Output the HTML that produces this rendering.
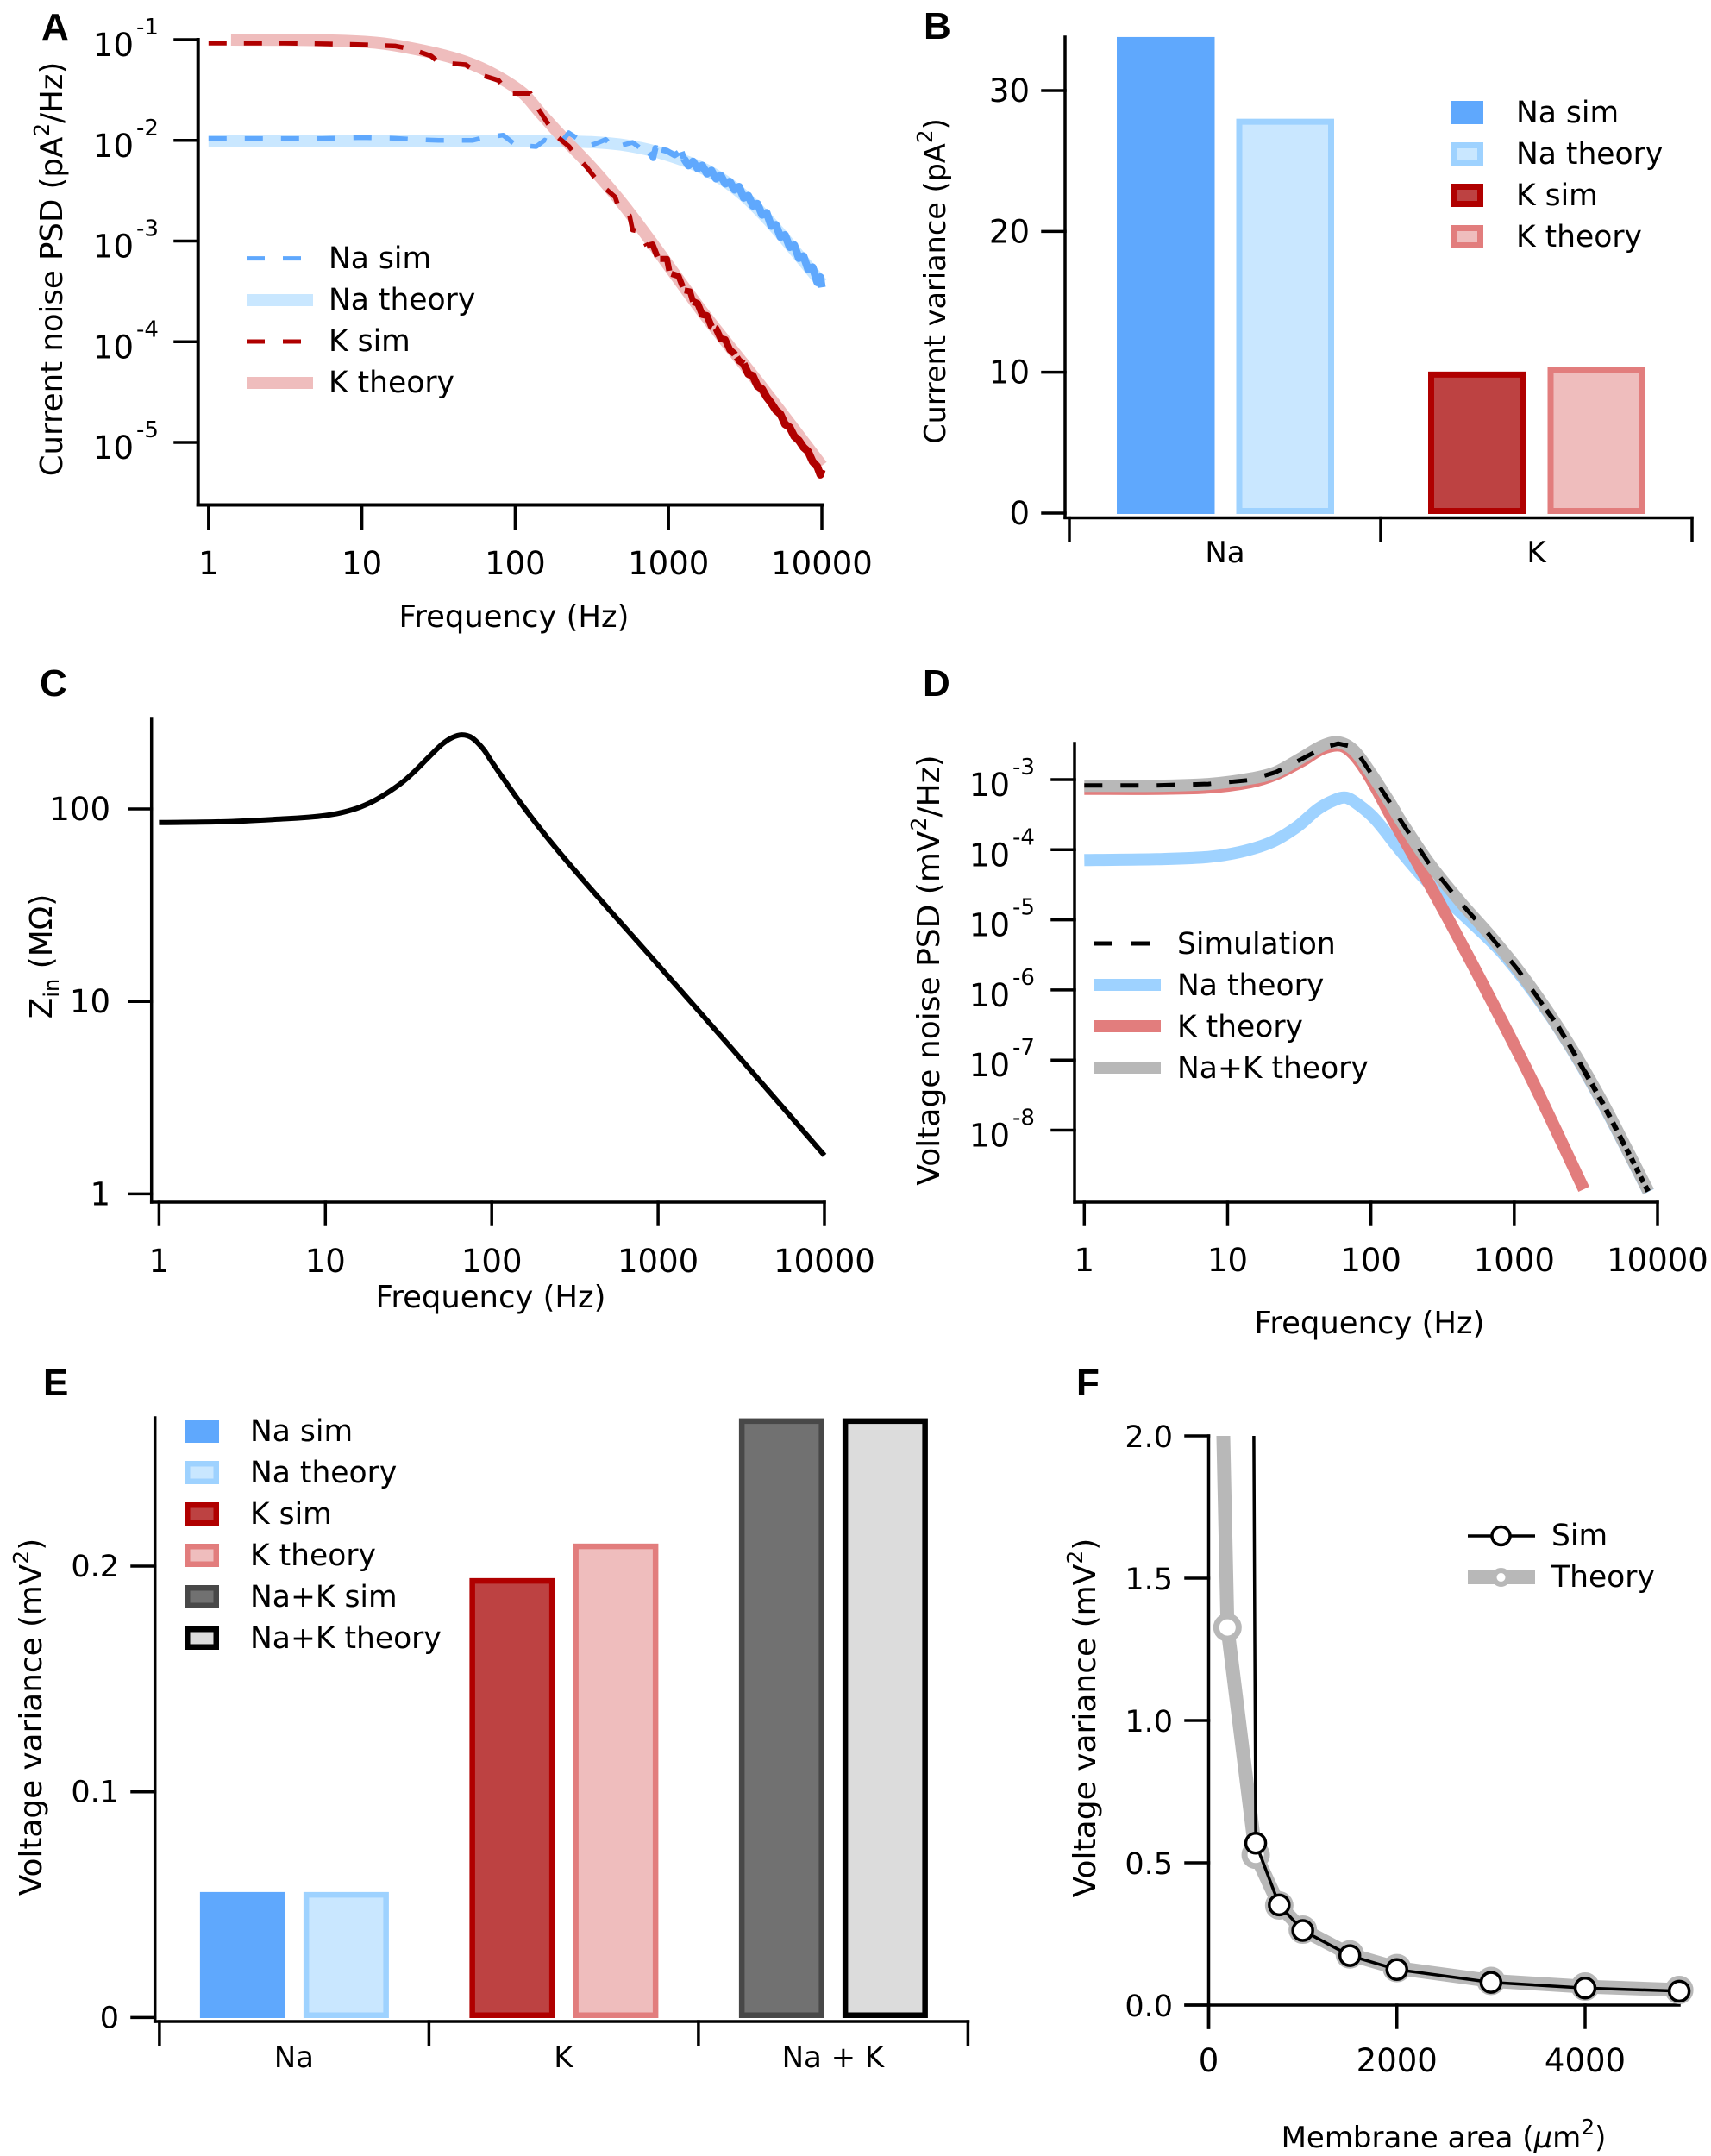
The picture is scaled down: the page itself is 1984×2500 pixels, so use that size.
<!DOCTYPE html>
<html lang="en">
<head>
<meta charset="utf-8">
<title>Channel noise figure</title>
<style>
html,body{margin:0;padding:0;background:#fff;}
svg{display:block;}
text{font-family:"DejaVu Sans","Liberation Sans",sans-serif;font-size:34.5px;fill:#000;}
.pl{font-family:"Liberation Sans",sans-serif;font-weight:bold;font-size:44px;}
</style>
</head>
<body>
<svg id="fig" xmlns="http://www.w3.org/2000/svg" width="1984" height="2500" viewBox="0 0 1984 2500">
<defs>
<clipPath id="clipF"><rect x="1380" y="1665" width="600" height="800"/></clipPath>
</defs>
<rect x="0" y="0" width="1984" height="2500" fill="#fff"/>

<g id="panelA">
<text class="pl" x="48" y="46">A</text>
<text style="font-size:35.5px" transform="translate(72,312) rotate(-90)" text-anchor="middle">Current noise PSD (pA<tspan dy="-15" font-size="25">2</tspan><tspan dy="15">/Hz)</tspan></text>
<text style="font-size:35.4px" x="596" y="727" text-anchor="middle">Frequency (Hz)</text>
<text x="381" y="311">Na sim</text>
<text x="381" y="359">Na theory</text>
<text x="381" y="407">K sim</text>
<text x="381" y="455">K theory</text>
</g>

<g id="panelB">
<text class="pl" x="1071" y="45">B</text>
<text style="font-size:33.5px" transform="translate(1096,326) rotate(-90)" text-anchor="middle">Current variance (pA<tspan dy="-15" font-size="25">2</tspan><tspan dy="15">)</tspan></text>
<text x="1758" y="142">Na sim</text>
<text x="1758" y="190">Na theory</text>
<text x="1758" y="238">K sim</text>
<text x="1758" y="286">K theory</text>
</g>

<g id="panelC">
<text class="pl" x="46" y="807">C</text>
<text style="font-size:36px" transform="translate(60,1109) rotate(-90)" text-anchor="middle">Z<tspan dy="8" font-size="24">in</tspan><tspan dy="-8"> (MΩ)</tspan></text>
<text style="font-size:35.4px" x="569" y="1516" text-anchor="middle">Frequency (Hz)</text>
</g>

<g id="panelD">
<text class="pl" x="1070" y="807">D</text>
<text style="font-size:36px" transform="translate(1089,1125) rotate(-90)" text-anchor="middle">Voltage noise PSD (mV<tspan dy="-15" font-size="25">2</tspan><tspan dy="15">/Hz)</tspan></text>
<text style="font-size:35.4px" x="1588" y="1546" text-anchor="middle">Frequency (Hz)</text>
<text x="1365" y="1106">Simulation</text>
<text x="1365" y="1154">Na theory</text>
<text x="1365" y="1202">K theory</text>
<text x="1365" y="1250">Na+K theory</text>
</g>

<g id="panelE">
<text class="pl" x="50" y="1618">E</text>
<text style="font-size:35.8px" transform="translate(48,1991) rotate(-90)" text-anchor="middle">Voltage variance (mV<tspan dy="-15" font-size="25">2</tspan><tspan dy="15">)</tspan></text>
<text x="290" y="1671">Na sim</text>
<text x="290" y="1719">Na theory</text>
<text x="290" y="1767">K sim</text>
<text x="290" y="1815">K theory</text>
<text x="290" y="1863">Na+K sim</text>
<text x="290" y="1911">Na+K theory</text>
</g>

<g id="panelF">
<text class="pl" x="1248" y="1618">F</text>
<text style="font-size:36px" transform="translate(1270,1992) rotate(-90)" text-anchor="middle">Voltage variance (mV<tspan dy="-15" font-size="25">2</tspan><tspan dy="15">)</tspan></text>
<text style="font-size:34px" x="1674" y="2490" text-anchor="middle">Membrane area (<tspan font-style="italic">µ</tspan>m<tspan dy="-15" font-size="25">2</tspan><tspan dy="15">)</tspan></text>
<text x="1799" y="1792">Sim</text>
<text x="1799" y="1840">Theory</text>
</g>
</svg>

<script>
/* ---------- Panel A data (log10 Hz, log10 pA^2/Hz) ---------- */
const aFreqTicks = ['1','10','100','1000','10000'];
const aPsdExponents = [-1,-2,-3,-4,-5];
const aNaTheoryLogF = [0,1.79,2.53,2.82,3.1,3.29,3.477,3.665,3.852,4];
const aNaTheoryLogP = [-2.005,-2.005,-2.02,-2.076,-2.2,-2.33,-2.53,-2.815,-3.147,-3.42];
const aKTheoryLogF = [0.147,0.74,1.115,1.452,1.677,1.865,2.052,2.16,2.296,2.511,2.746,3.158,3.27,3.627,4];
const aKTheoryLogP = [-1,-1.006,-1.034,-1.126,-1.22,-1.348,-1.534,-1.72,-1.948,-2.291,-2.719,-3.576,-3.8,-4.486,-5.231];
const aNaSimLogF = [0,0.74,1,1.2,1.33,1.5,1.62,1.72,1.807,1.921,2.005,2.137,2.193,2.24,2.313,2.349,2.396,2.478,2.533,2.59,2.647,2.678,2.765,2.83,2.876,2.9,2.915,2.99,3.04,3.083,3.1,3.13,3.16,3.19,3.22,3.25,3.28,3.31,3.34,3.37,3.4,3.43,3.46,3.49,3.52,3.55,3.58,3.61,3.64,3.67,3.7,3.73,3.76,3.79,3.82,3.85,3.88,3.91,3.94,3.97,3.99,4];
const aNaSimLogP = [-1.982,-1.982,-1.972,-1.978,-1.99,-2,-2,-2,-1.97,-1.948,-2.048,-2.062,-1.997,-2.033,-1.991,-1.925,-1.971,-2.056,-2.028,-1.991,-2.076,-2.056,-2.02,-2.091,-2.12,-2.176,-2.076,-2.105,-2.148,-2.105,-2.18,-2.25,-2.21,-2.28,-2.25,-2.33,-2.3,-2.38,-2.35,-2.43,-2.41,-2.49,-2.46,-2.57,-2.55,-2.65,-2.63,-2.74,-2.72,-2.85,-2.84,-2.96,-2.94,-3.06,-3.04,-3.17,-3.15,-3.28,-3.26,-3.41,-3.36,-3.46];
const aKSimLogF = [0,0.5,0.974,1.22,1.33,1.452,1.49,1.554,1.677,1.771,1.892,1.958,2.099,2.146,2.229,2.25,2.352,2.41,2.464,2.53,2.586,2.652,2.671,2.708,2.746,2.765,2.811,2.858,2.896,2.933,2.99,3.008,3.065,3.102,3.14,3.16,3.19,3.22,3.25,3.28,3.31,3.34,3.37,3.4,3.43,3.46,3.49,3.52,3.55,3.58,3.61,3.64,3.67,3.7,3.73,3.76,3.79,3.82,3.85,3.88,3.91,3.94,3.97,3.99,4];
const aKSimLogP = [-1.034,-1.034,-1.049,-1.063,-1.097,-1.163,-1.211,-1.234,-1.248,-1.348,-1.405,-1.534,-1.534,-1.677,-1.87,-1.934,-2.062,-2.177,-2.262,-2.39,-2.476,-2.562,-2.648,-2.705,-2.748,-2.89,-2.905,-3.048,-3.034,-3.177,-3.177,-3.32,-3.348,-3.49,-3.5,-3.6,-3.62,-3.73,-3.74,-3.85,-3.87,-3.97,-3.98,-4.08,-4.12,-4.19,-4.22,-4.32,-4.34,-4.44,-4.47,-4.55,-4.61,-4.68,-4.72,-4.82,-4.85,-4.94,-4.98,-5.05,-5.09,-5.19,-5.24,-5.32,-5.27];

/* ---------- Panel B data (pA^2) ---------- */
const bCategories = ['Na','K'];
const bTicks = [0,10,20,30];
const bNaSimValue = [33.8];
const bNaTheoryValue = [28.0];
const bKSimValue = [10.05];
const bKTheoryValue = [10.4];

/* ---------- Panel C data (log10 Hz, log10 MOhm) ---------- */
const cFreqTicks = ['1','10','100','1000','10000'];
const cZTicks = ['1','10','100'];
const cLogF = [0,0.41,0.76,0.9,1,1.107,1.21,1.313,1.45,1.536,1.62,1.7,1.76,1.82,1.88,1.95,2,2.17,2.344,2.55,3,3.44,4];
const cLogZ = [1.929,1.934,1.949,1.957,1.966,1.983,2.01,2.052,2.13,2.195,2.268,2.335,2.37,2.385,2.37,2.31,2.245,2.035,1.84,1.63,1.19,0.758,0.2];

/* ---------- Panel D data (log10 Hz, log10 mV^2/Hz) ---------- */
const dFreqTicks = ['1','10','100','1000','10000'];
const dPsdExponents = [-3,-4,-5,-6,-7,-8];
const dNaLogF = [0,0.504,0.866,1.083,1.301,1.482,1.627,1.736,1.826,1.917,2.03,2.2,2.377,2.695,2.936,3.225,3.426,3.626,3.827,3.937];
const dNaLogP = [-4.147,-4.135,-4.103,-4.034,-3.897,-3.677,-3.426,-3.301,-3.257,-3.364,-3.566,-4,-4.42,-5.026,-5.518,-6.29,-6.93,-7.65,-8.44,-8.88];
const dKLogF = [0,0.504,0.866,1.156,1.337,1.518,1.663,1.79,1.88,1.989,2.152,2.315,2.509,2.814,3.121,3.486];
const dKLogP = [-3.132,-3.132,-3.113,-3.038,-2.925,-2.737,-2.561,-2.517,-2.643,-2.956,-3.566,-4.153,-4.871,-6.045,-7.273,-8.842];
const dSumLogF = [0,0.504,0.866,1.156,1.337,1.518,1.663,1.772,1.88,1.989,2.134,2.202,2.403,2.623,2.824,3.025,3.225,3.426,3.626,3.827,3.937];
const dSumLogP = [-3.088,-3.088,-3.063,-2.987,-2.893,-2.687,-2.517,-2.467,-2.58,-2.875,-3.332,-3.566,-4.181,-4.742,-5.204,-5.707,-6.277,-6.92,-7.64,-8.434,-8.874];
const dSimLogF = [0,0.504,0.866,1.156,1.337,1.518,1.663,1.772,1.88,1.989,2.134,2.202,2.403,2.623,2.824,3.025,3.225,3.3,3.36,3.426,3.49,3.55,3.626,3.69,3.75,3.827,3.88,3.937];
const dSimLogP = [-3.082,-3.082,-3.063,-3.006,-2.893,-2.706,-2.549,-2.486,-2.536,-2.875,-3.332,-3.566,-4.19,-4.75,-5.21,-5.71,-6.285,-6.5,-6.7,-6.93,-7.16,-7.37,-7.65,-7.9,-8.14,-8.44,-8.66,-8.88];

/* ---------- Panel E data (mV^2) ---------- */
const eCategories = ['Na','K','Na + K'];
const eTicks = ['0','0.1','0.2'];
const eSimValues = [0.0556,0.1947,0.2655];
const eTheoryValues = [0.0556,0.21,0.2655];

/* ---------- Panel F data (um^2, mV^2) ---------- */
const fXTicks = [0,2000,4000];
const fYTicks = ['0.0','0.5','1.0','1.5','2.0'];
const fTheoryArea = [150,200,500,750,1000,1500,2000,3000,4000,5000];
const fTheoryVar = [2.08,1.327,0.528,0.35,0.265,0.178,0.13,0.085,0.065,0.053];
const fSimArea = [472,500,750,1000,1500,2000,3000,4000,5000];
const fSimVar = [2.6,0.569,0.352,0.262,0.174,0.125,0.08,0.06,0.049];

/* ---------- drawing helpers ---------- */
const NS = 'http://www.w3.org/2000/svg';
function mk(tag, parent, name, attrs) {
  const el = document.createElementNS(NS, tag);
  
  
  for (const k in attrs) el.setAttribute(k, attrs[k]);
  parent.appendChild(el);
  return el;
}
function seg(parent, name, x1, y1, x2, y2, w) {
  return mk('line', parent, name, {x1:x1, y1:y1, x2:x2, y2:y2, stroke:'#000', 'stroke-width':w || 3.5, 'stroke-linecap':'square'});
}
function label(parent, name, x, y, str, anchor, size) {
  const el = mk('text', parent, name, {x:x, y:y, 'text-anchor':anchor || 'middle'});
  el.style.fontSize = (size || 37) + 'px';
  el.textContent = str;
  return el;
}
function linear(d0, r0, d1, r1) { return v => r0 + (v - d0) * (r1 - r0) / (d1 - d0); }
function points(xs, ys, fx, fy) { return xs.map((x, i) => [fx(x), fy(ys[i])]); }
function polyPath(p) { return 'M' + p.map(q => q[0].toFixed(1) + ' ' + q[1].toFixed(1)).join('L'); }
function smoothPath(p) {
  const n = p.length;
  const m = p.map((q, i) => {
    const a = p[Math.max(i - 1, 0)], b = p[Math.min(i + 1, n - 1)];
    return (b[1] - a[1]) / (b[0] - a[0]);
  });
  let d = 'M' + p[0][0].toFixed(1) + ' ' + p[0][1].toFixed(1);
  for (let i = 0; i < n - 1; i++) {
    const b = p[i], c = p[i + 1], dx = (c[0] - b[0]) / 3;
    d += 'C' + (b[0] + dx).toFixed(1) + ' ' + (b[1] + m[i] * dx).toFixed(1) + ' ' +
      (c[0] - dx).toFixed(1) + ' ' + (c[1] - m[i + 1] * dx).toFixed(1) + ' ' +
      c[0].toFixed(1) + ' ' + c[1].toFixed(1);
  }
  return d;
}
function band(parent, name, p, color, w) {
  return mk('path', parent, name, {d:smoothPath(p), fill:'none', stroke:color, 'stroke-width':w, 'stroke-linejoin':'round'});
}
/* draw noisy sim trace: long dashes at low freq, tighter as the trace gets dense */
function simTrace(parent, name, xs, ys, fx, fy, color, breaks) {
  let start = 0;
  breaks.forEach((b, bi) => {
    let end = xs.findIndex(v => v >= b.until);
    if (end < 0) end = xs.length - 1;
    const p = points(xs.slice(start, end + 1), ys.slice(start, end + 1), fx, fy);
    mk('path', parent, name + '-part-' + bi, {d:polyPath(p), fill:'none', stroke:color, 'stroke-width':b.w, 'stroke-dasharray':b.dash, 'stroke-linejoin':'round'});
    start = end;
  });
}
function powerLabel(parent, name, xEnd, y, exp) {
  label(parent, name + '-base', xEnd, y + 19, '10', 'end');
  label(parent, name + '-exponent', xEnd + 3, y - 6, String(exp), 'start', 26);
}
function barRect(parent, name, x, top, w, bottom, fill, border, sw) {
  mk('rect', parent, name, {x:x + sw / 2, y:top + sw / 2, width:w - sw, height:bottom - top - sw, fill:fill, stroke:border, 'stroke-width':sw});
}

const COL = {naSim:'#5fa8fd', naFill:'#c9e7ff', naEdge:'#9ed2ff', kEdge:'#b00000', kFill:'#bd4242', ktFill:'#efbdbd', ktEdge:'#e27d7d', grey:'#b8b8b8'};

/* ---------- Panel A ---------- */
(function () {
  const g = document.getElementById('panelA');
  const x = linear(0, 241.8, 4, 953);
  const y = linear(-1, 46, -5, 513);
  seg(g, 'panel-a-y-axis', 229.7, 46, 229.7, 585.5, 4);
  seg(g, 'panel-a-x-axis', 229.7, 585.5, 953, 585.5, 4);
  aFreqTicks.forEach((t, i) => {
    seg(g, 'panel-a-x-tick', x(i), 585.5, x(i), 613);
    label(g, 'panel-a-x-tick-label', x(i), 666, t);
  });
  aPsdExponents.forEach(e => {
    seg(g, 'panel-a-y-tick', 203, y(e), 229.7, y(e));
    powerLabel(g, 'panel-a-y-tick-label', 155, y(e), e);
  });
  band(g, 'na-theory-line', points(aNaTheoryLogF, aNaTheoryLogP, x, y), COL.naFill, 14);
  band(g, 'k-theory-line', points(aKTheoryLogF, aKTheoryLogP, x, y), COL.ktFill, 14);
  simTrace(g, 'na-sim-line', aNaSimLogF, aNaSimLogP, x, y, COL.naSim, [{until:2.85, dash:'21 21', w:5.5},{until:3.1, dash:'22 5', w:7},{until:4, dash:'none', w:9}]);
  simTrace(g, 'k-sim-line', aKSimLogF, aKSimLogP, x, y, COL.kEdge, [{until:2.85, dash:'21 20', w:5.5},{until:3.16, dash:'22 5', w:7},{until:3.49, dash:'40 4', w:8},{until:4, dash:'none', w:9}]);
  mk('line', g, 'legend-na-sim-dash', {x1:286, y1:299.6, x2:350, y2:299.6, stroke:COL.naSim, 'stroke-width':5, 'stroke-dasharray':'21 21'});
  mk('line', g, 'legend-na-theory-band', {x1:286, y1:348, x2:363, y2:348, stroke:COL.naFill, 'stroke-width':14});
  mk('line', g, 'legend-k-sim-dash', {x1:286, y1:396, x2:350, y2:396, stroke:COL.kEdge, 'stroke-width':5, 'stroke-dasharray':'21 21'});
  mk('line', g, 'legend-k-theory-band', {x1:286, y1:444, x2:363, y2:444, stroke:COL.ktFill, 'stroke-width':14});
})();

/* ---------- Panel B ---------- */
(function () {
  const g = document.getElementById('panelB');
  const y = linear(0, 595, 30, 105);
  const groupX = i => 1240 + i * 361;
  const barX = (i, s) => groupX(i) + 55 + s * 138.5;
  seg(g, 'panel-b-y-axis', 1235, 43, 1235, 600, 3.5);
  seg(g, 'panel-b-x-axis', 1235, 600.5, 1962, 600.5, 3.5);
  bTicks.forEach(t => {
    seg(g, 'panel-b-y-tick', 1209, y(t), 1235, y(t));
    label(g, 'panel-b-y-tick-label', 1194, y(t) + 13, String(t), 'end');
  });
  [0,1,2].forEach(i => seg(g, 'panel-b-x-tick', groupX(i), 600.5, groupX(i), 627));
  bCategories.forEach((c, i) => label(g, 'panel-b-x-label', groupX(i) + 180.5, 652, c, 'middle', 34));
  barRect(g, 'bar-na-sim', barX(0,0), y(bNaSimValue[0]), 113.5, 596, COL.naSim, COL.naSim, 1);
  barRect(g, 'bar-na-theory', barX(0,1), y(bNaTheoryValue[0]), 113.5, 596, COL.naFill, COL.naEdge, 7);
  barRect(g, 'bar-k-sim', barX(1,0), y(bKSimValue[0]), 113.5, 596, COL.kFill, COL.kEdge, 7);
  barRect(g, 'bar-k-theory', barX(1,1), y(bKTheoryValue[0]), 113.5, 596, COL.ktFill, COL.ktEdge, 7);
  barRect(g, 'legend-na-sim-swatch', 1682, 117, 38, 144, COL.naSim, COL.naSim, 1);
  barRect(g, 'legend-na-theory-swatch', 1682, 165, 38, 192, COL.naFill, COL.naEdge, 7);
  barRect(g, 'legend-k-sim-swatch', 1682, 213, 38, 240, COL.kFill, COL.kEdge, 7);
  barRect(g, 'legend-k-theory-swatch', 1682, 261, 38, 288, COL.ktFill, COL.ktEdge, 7);
})();

/* ---------- Panel C ---------- */
(function () {
  const g = document.getElementById('panelC');
  const x = linear(0, 184.4, 4, 956);
  const y = linear(0, 1384.4, 2, 938);
  seg(g, 'panel-c-y-axis', 175.7, 833, 175.7, 1394, 3.5);
  seg(g, 'panel-c-x-axis', 175.7, 1394, 956, 1394, 3.5);
  cFreqTicks.forEach((t, i) => {
    seg(g, 'panel-c-x-tick', x(i), 1394, x(i), 1420);
    label(g, 'panel-c-x-tick-label', x(i), 1475, t);
  });
  cZTicks.forEach((t, i) => {
    seg(g, 'panel-c-y-tick', 150, y(i), 175.7, y(i));
    label(g, 'panel-c-y-tick-label', 128, y(i) + 13, t, 'end');
  });
  band(g, 'impedance-line', points(cLogF, cLogZ, x, y), '#000', 6);
})();

/* ---------- Panel D ---------- */
(function () {
  const g = document.getElementById('panelD');
  const x = linear(0, 1257.3, 4, 1922);
  const y = linear(-3, 904, -8, 1310.5);
  seg(g, 'panel-d-y-axis', 1246, 862, 1246, 1394, 3.5);
  seg(g, 'panel-d-x-axis', 1246, 1394, 1922, 1394, 3.5);
  dFreqTicks.forEach((t, i) => {
    seg(g, 'panel-d-x-tick', x(i), 1394, x(i), 1420);
    label(g, 'panel-d-x-tick-label', x(i), 1474, t);
  });
  dPsdExponents.forEach(e => {
    seg(g, 'panel-d-y-tick', 1220, y(e), 1246, y(e));
    powerLabel(g, 'panel-d-y-tick-label', 1171, y(e), e);
  });
  band(g, 'na-theory-line', points(dNaLogF, dNaLogP, x, y), COL.naEdge, 14);
  band(g, 'k-theory-line', points(dKLogF, dKLogP, x, y), COL.ktEdge, 14);
  band(g, 'na-k-theory-line', points(dSumLogF, dSumLogP, x, y), COL.grey, 14);
  simTrace(g, 'simulation-line', dSimLogF, dSimLogP, x, y, '#000', [{until:3.225, dash:'21 21', w:5},{until:3.49, dash:'15 9', w:5.5},{until:3.75, dash:'10 7', w:6},{until:4, dash:'7 5', w:6}]);
  mk('line', g, 'legend-simulation-dash', {x1:1269, y1:1094, x2:1334, y2:1094, stroke:'#000', 'stroke-width':5, 'stroke-dasharray':'21 22'});
  mk('line', g, 'legend-na-theory-band', {x1:1269, y1:1142, x2:1346, y2:1142, stroke:COL.naEdge, 'stroke-width':14});
  mk('line', g, 'legend-k-theory-band', {x1:1269, y1:1190, x2:1346, y2:1190, stroke:COL.ktEdge, 'stroke-width':14});
  mk('line', g, 'legend-na-k-theory-band', {x1:1269, y1:1238, x2:1346, y2:1238, stroke:COL.grey, 'stroke-width':14});
})();

/* ---------- Panel E ---------- */
(function () {
  const g = document.getElementById('panelE');
  const y = linear(0, 2339.4, 0.2, 1816);
  const groupX = i => 184.9 + i * 312.5;
  const barX = (i, s) => groupX(i) + 47 + s * 120;
  seg(g, 'panel-e-y-axis', 179.7, 1644, 179.7, 2344, 3.5);
  seg(g, 'panel-e-x-axis', 179.7, 2344, 1122.5, 2344, 3.5);
  eTicks.forEach(t => {
    seg(g, 'panel-e-y-tick', 153, y(Number(t)), 179.7, y(Number(t)));
    label(g, 'panel-e-y-tick-label', 138, y(Number(t)) + 12, t, 'end', 35);
  });
  [0,1,2,3].forEach(i => seg(g, 'panel-e-x-tick', groupX(i), 2344, groupX(i), 2371));
  eCategories.forEach((c, i) => label(g, 'panel-e-x-label', groupX(i) + 156, 2397, c, 'middle', 34));
  const simFill = [COL.naSim, COL.kFill, '#717171'];
  const simEdge = [COL.naSim, COL.kEdge, '#484848'];
  const thFill = [COL.naFill, COL.ktFill, '#dcdcdc'];
  const thEdge = [COL.naEdge, COL.ktEdge, '#000'];
  eCategories.forEach((c, i) => {
    barRect(g, 'bar-sim-' + i, barX(i,0), y(eSimValues[i]), 99, 2340, simFill[i], simEdge[i], i ? 6.5 : 1);
    barRect(g, 'bar-theory-' + i, barX(i,1), y(eTheoryValues[i]), 99, 2340, thFill[i], thEdge[i], 6.5);
  });
  const rows = [1646,1694,1742,1790,1838,1886];
  const names = ['na-sim','na-theory','k-sim','k-theory','na-k-sim','na-k-theory'];
  const fills = [COL.naSim,COL.naFill,COL.kFill,COL.ktFill,'#717171','#dcdcdc'];
  const edges = [COL.naSim,COL.naEdge,COL.kEdge,COL.ktEdge,'#484848','#000'];
  rows.forEach((r, i) => barRect(g, 'legend-' + names[i] + '-swatch', 214, r, 40, r + 27, fills[i], edges[i], i ? 6.5 : 1));
})();

/* ---------- Panel F ---------- */
(function () {
  const g = document.getElementById('panelF');
  const x = linear(0, 1401.5, 4000, 1838);
  const y = linear(0, 2325, 2, 1665);
  seg(g, 'panel-f-y-axis', 1401.5, 1665, 1401.5, 2351, 3.5);
  seg(g, 'panel-f-x-axis', 1375, 2325, 1947, 2325, 3.5);
  fXTicks.forEach(t => {
    seg(g, 'panel-f-x-tick', x(t), 2325, x(t), 2351);
    label(g, 'panel-f-x-tick-label', x(t), 2402, String(t));
  });
  fYTicks.forEach(t => {
    seg(g, 'panel-f-y-tick', 1375, y(Number(t)), 1401.5, y(Number(t)));
    label(g, 'panel-f-y-tick-label', 1360, y(Number(t)) + 13, t, 'end', 35);
  });
  const plot = mk('g', g, 'panel-f-plot-area', {'clip-path':'url(#clipF)'});
  mk('path', plot, 'theory-line', {d:polyPath(points(fTheoryArea, fTheoryVar, x, y)), fill:'none', stroke:COL.grey, 'stroke-width':16, 'stroke-linejoin':'round'});
  fTheoryArea.slice(1).forEach((a, i) => {
    mk('circle', plot, 'theory-point', {cx:x(a), cy:y(fTheoryVar[i + 1]), r:13, fill:'#fff', stroke:COL.grey, 'stroke-width':7});
  });
  mk('path', plot, 'sim-line', {d:polyPath(points(fSimArea, fSimVar, x, y)), fill:'none', stroke:'#000', 'stroke-width':3.5});
  fSimArea.slice(1).forEach((a, i) => {
    mk('circle', plot, 'sim-point', {cx:x(a), cy:y(fSimVar[i + 1]), r:11.5, fill:'#fff', stroke:'#000', 'stroke-width':3.5});
  });
  mk('line', g, 'legend-sim-line', {x1:1702, y1:1781, x2:1780, y2:1781, stroke:'#000', 'stroke-width':3.5});
  mk('circle', g, 'legend-sim-marker', {cx:1740.5, cy:1781, r:10.5, fill:'#fff', stroke:'#000', 'stroke-width':3.5});
  mk('line', g, 'legend-theory-band', {x1:1702, y1:1829, x2:1780, y2:1829, stroke:COL.grey, 'stroke-width':16});
  mk('circle', g, 'legend-theory-marker', {cx:1740.5, cy:1829, r:8, fill:'#fff', stroke:COL.grey, 'stroke-width':6});
})();
</script>
</body>
</html>
